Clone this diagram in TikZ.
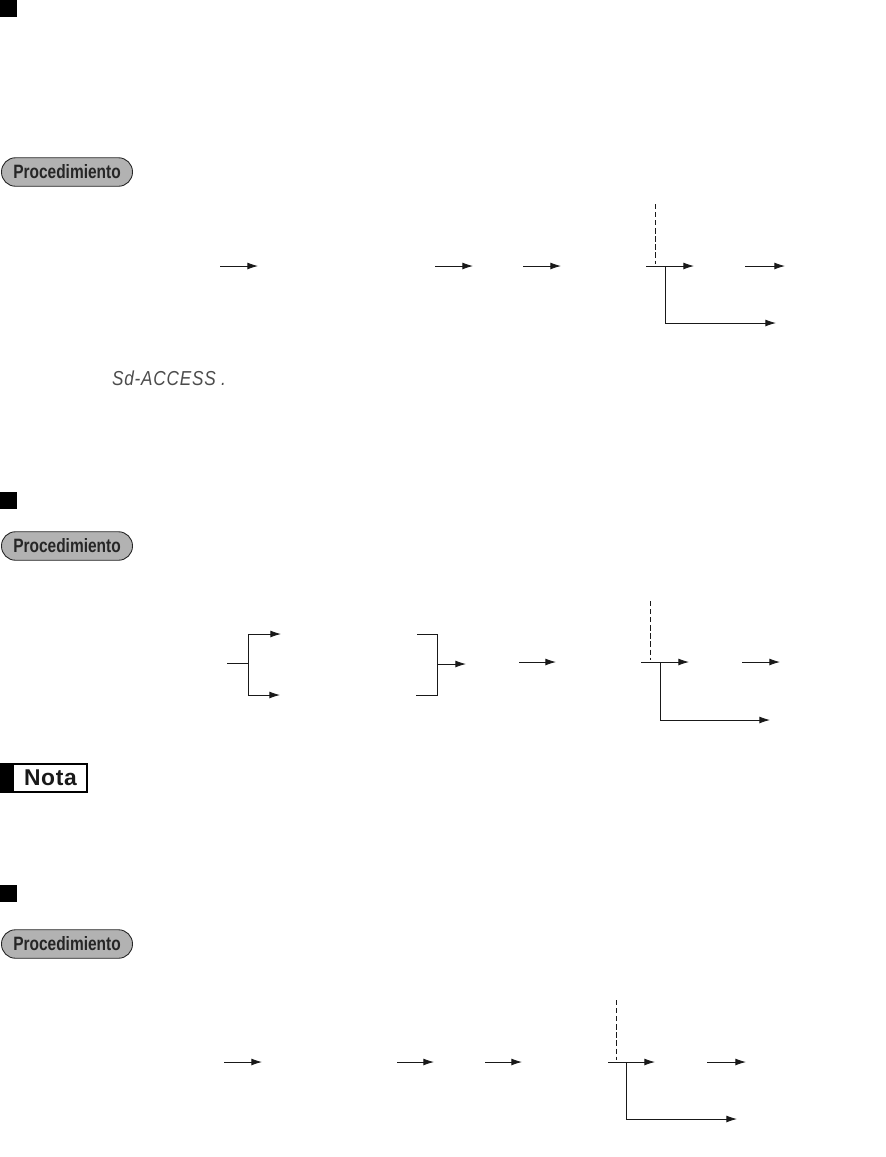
\documentclass[tikz,border=0pt]{standalone}
\usepackage{fontspec}
\usetikzlibrary{arrows.meta}
\newfontfamily\pillfont{Liberation Sans}[FakeStretch=0.8]
\newfontfamily\notafont{Liberation Sans}[LetterSpace=3]
\newfontfamily\lcdfont{Liberation Sans}[FakeStretch=0.85,LetterSpace=4]
\begin{document}
\begin{tikzpicture}[
    x=0.02cm,y=-0.02cm,
    >={Latex[length=6pt,width=3.9pt]},
    arr/.style={->, line width=0.5pt, draw=black!90},
    wire/.style={line width=0.5pt, draw=black!90},
    guide/.style={dashed, dash pattern=on 3pt off 1.6pt, line width=0.5pt, draw=black!90},
    marker/.style={
        fill=black,
        minimum size=0.34cm,
        inner sep=0pt
    },
    pill/.style={
        rounded corners=2.8mm,
        draw=black!85,
        fill=black!30,
        line width=0.5pt,
        minimum width=2.62cm,
        minimum height=0.57cm,
        inner sep=0pt,
        text=black!85,
        font=\pillfont\bfseries\fontsize{11}{13}\selectfont
    }
]
    \useasboundingbox (0,0) rectangle (886,1157);

    % first section
    \node[marker] (mark1) at (8.5,8.5) {};
    \node[pill] (proc1) at (67,172) {Procedimiento};
    \node[font=\lcdfont\itshape\fontsize{11.5}{13}\selectfont, text=black!70] (lcd) at (169,378) {Sd-ACCESS\hspace{3pt}.};

    \coordinate (a1) at (220,266);
    \coordinate (b1) at (258,266);
    \coordinate (c1) at (435,266);
    \coordinate (d1) at (473,266);
    \coordinate (e1) at (523,266);
    \coordinate (f1) at (561,266);
    \coordinate (g1) at (646,266);
    \coordinate (h1) at (694,266);
    \coordinate (i1) at (745,266);
    \coordinate (j1) at (785,266);
    \coordinate (k1) at (665,266);
    \coordinate (l1) at (665,323);
    \coordinate (m1) at (776,323);
    \coordinate (n1) at (655,204);
    \coordinate (o1) at (655,264);

    \draw[arr] (a1) -- (b1);
    \draw[arr] (c1) -- (d1);
    \draw[arr] (e1) -- (f1);
    \draw[arr] (g1) -- (h1);
    \draw[arr] (i1) -- (j1);
    \draw[arr] (k1) -- (l1) -- (m1);
    \draw[guide] (n1) -- (o1);

    % second section
    \node[marker] (mark2) at (8.5,500.5) {};
    \node[pill] (proc2) at (67,546) {Procedimiento};

    \coordinate (a2) at (227,663);
    \coordinate (b2) at (248,663);
    \coordinate (c2) at (248,634);
    \coordinate (d2) at (281,634);
    \coordinate (e2) at (248,695);
    \coordinate (f2) at (280,695);
    \coordinate (g2) at (417,634);
    \coordinate (h2) at (437,634);
    \coordinate (i2) at (437,695);
    \coordinate (j2) at (416,695);
    \coordinate (k2) at (437,664);
    \coordinate (l2) at (466,664);
    \coordinate (m2) at (519,662);
    \coordinate (n2) at (556,662);
    \coordinate (o2) at (641,662);
    \coordinate (p2) at (689,662);
    \coordinate (q2) at (742,662);
    \coordinate (r2) at (780,662);
    \coordinate (s2) at (660,662);
    \coordinate (t2) at (660,720);
    \coordinate (u2) at (770,720);
    \coordinate (v2) at (650,601);
    \coordinate (w2) at (650,660);

    \draw[wire] (a2) -- (b2);
    \draw[arr] (b2) -- (c2) -- (d2);
    \draw[arr] (b2) -- (e2) -- (f2);
    \draw[wire] (g2) -- (h2) -- (i2) -- (j2);
    \draw[arr] (k2) -- (l2);
    \draw[arr] (m2) -- (n2);
    \draw[arr] (o2) -- (p2);
    \draw[arr] (q2) -- (r2);
    \draw[arr] (s2) -- (t2) -- (u2);
    \draw[guide] (v2) -- (w2);

    % note
    \node[draw=black, line width=0.6pt, minimum width=1.72cm, minimum height=0.56cm, inner sep=0pt] (nota) at (44,778) {};
    \node[fill=black, anchor=north west, minimum width=0.26cm, minimum height=0.56cm, inner sep=0pt] (notabar) at (nota.north west) {};
    \node[font=\notafont\bfseries\fontsize{13}{15}\selectfont, text=black!90] (notatext) at (50.5,778) {Nota};

    % third section
    \node[marker] (mark3) at (8.5,893.5) {};
    \node[pill] (proc3) at (67,944) {Procedimiento};

    \coordinate (a3) at (224,1062);
    \coordinate (b3) at (262,1062);
    \coordinate (c3) at (397,1062);
    \coordinate (d3) at (434,1062);
    \coordinate (e3) at (485,1062);
    \coordinate (f3) at (522,1062);
    \coordinate (g3) at (608,1062);
    \coordinate (h3) at (655,1062);
    \coordinate (i3) at (707,1062);
    \coordinate (j3) at (746,1062);
    \coordinate (k3) at (626,1062);
    \coordinate (l3) at (626,1119);
    \coordinate (m3) at (737,1119);
    \coordinate (n3) at (616,1000);
    \coordinate (o3) at (616,1060);

    \draw[arr] (a3) -- (b3);
    \draw[arr] (c3) -- (d3);
    \draw[arr] (e3) -- (f3);
    \draw[arr] (g3) -- (h3);
    \draw[arr] (i3) -- (j3);
    \draw[arr] (k3) -- (l3) -- (m3);
    \draw[guide] (n3) -- (o3);

\end{tikzpicture}
\end{document}
